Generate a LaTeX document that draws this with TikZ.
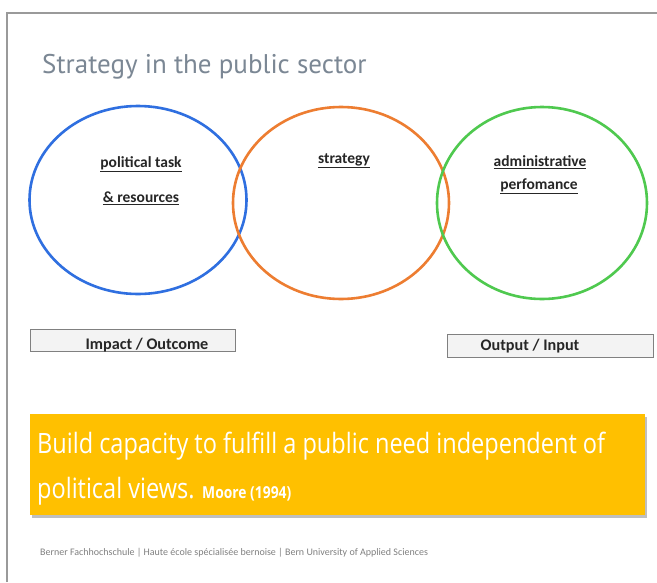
\documentclass[tikz,border=0pt]{standalone}
\usepackage{fontspec}
\setmainfont{Carlito}
\newfontfamily\titlefont{PT Sans}
\newfontfamily\condfont[FakeStretch=0.84]{Open Sans}
\usetikzlibrary{shapes.geometric}
\definecolor{cblue}{HTML}{2F6FE0}
\definecolor{corange}{HTML}{ED7D31}
\definecolor{cgreen}{HTML}{4FC94F}
\definecolor{cyellow}{HTML}{FFC000}
\definecolor{ctitle}{HTML}{7B8794}
\definecolor{cframe}{HTML}{9A9A9A}
\definecolor{cbox}{HTML}{F3F3F3}
\definecolor{cboxline}{HTML}{808080}
\tikzset{
  ring/.style={ellipse, draw, line width=2.6pt, inner sep=0pt},
  lbl/.style={font=\bfseries\fontsize{15.5}{18}\selectfont, text=black!85, inner sep=0pt},
  taglbl/.style={font=\bfseries\fontsize{16.2}{18}\selectfont, text=black!85, inner sep=0pt},
  tagbox/.style={draw=cboxline, fill=cbox, line width=0.8pt, inner sep=0pt, anchor=north west},
  quotetxt/.style={anchor=base west, text=white, inner sep=0pt},
}
\begin{document}
\begin{tikzpicture}[x=1pt,y=-1pt]
\useasboundingbox (0,0) rectangle (657,582);
\fill[white] (0,0) rectangle (657,582);
\coordinate (fb) at (7,582);
\coordinate (fc) at (7,13);
\coordinate (fr) at (657,13);
\draw[cframe, line width=1.3pt] (fb) -- (fc) -- (fr);

\node[anchor=base west, inner sep=0pt, text=ctitle, font=\titlefont\fontsize{27}{32}\selectfont] (title) at (42,73) {Strategy in the public sector};

\node[ring, draw=cblue, minimum width=217pt, minimum height=188pt] (blue) at (138,200) {};
\node[ring, draw=corange, minimum width=216pt, minimum height=192pt] (orange) at (341,203) {};
\node[ring, draw=cgreen, minimum width=210pt, minimum height=192pt] (green) at (542,203) {};

\node[lbl] (pt) at (141,164) {\underline{political task}};
\node[lbl] (res) at (141,198) {\underline{\& resources}};
\node[lbl] (str) at (344,161) {\underline{strategy}};
\node[lbl] (adm) at (540,162) {\underline{administrative}};
\node[lbl] (perf) at (539,186) {\underline{perfomance}};

\node[tagbox, minimum width=205pt, minimum height=22pt] (impactbox) at (30,329) {};
\node[taglbl] (impact) at (147,345) {Impact / Outcome};
\node[tagbox, minimum width=206pt, minimum height=23pt] (outputbox) at (447,334) {};
\node[taglbl] (output) at (530,346) {Output / Input};

\fill[black!25] (32,417) rectangle (647,518);
\node[fill=cyellow, minimum width=615pt, minimum height=101pt, inner sep=0pt, anchor=north west] (quote) at (30,414) {};
\node[quotetxt, font=\condfont\fontsize{28}{32}\selectfont] (q1) at (37,453) {Build capacity to fulfill a public need independent of};
\node[quotetxt, font=\condfont\fontsize{28}{32}\selectfont] (q2) at (37,498) {political views.};
\node[quotetxt, font=\condfont\bfseries\fontsize{16.5}{18}\selectfont] (moore) at (202,498) {Moore (1994)};

\node[anchor=base west, inner sep=0pt, text=black!50, font=\fontsize{10}{11}\selectfont] (foot) at (40,555) {Berner Fachhochschule | Haute école spécialisée bernoise | Bern University of Applied Sciences};
\end{tikzpicture}
\end{document}
